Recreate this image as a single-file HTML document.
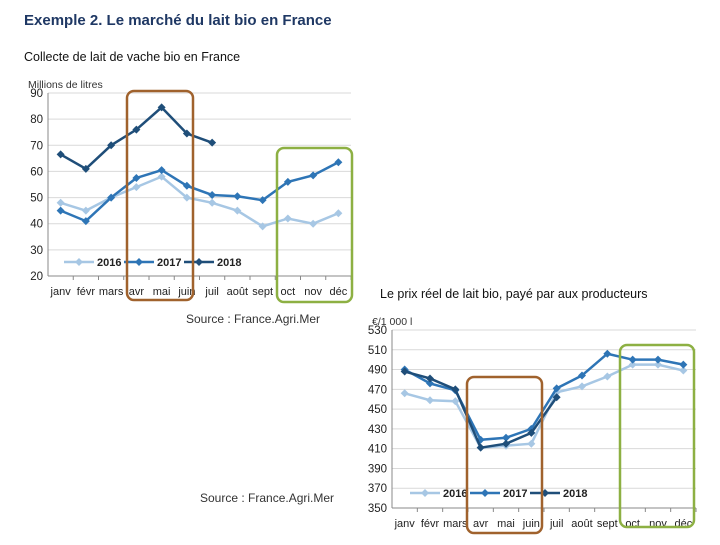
<!DOCTYPE html>
<html><head><meta charset="utf-8"><style>
body{margin:0;width:720px;height:540px;background:#fff;overflow:hidden;font-family:"Liberation Sans",sans-serif}
</style></head><body>
<svg width="720" height="540" xmlns="http://www.w3.org/2000/svg">
<text x="24" y="25" font-size="15" font-weight="bold" fill="#1f3864">Exemple 2. Le marché du lait bio en France</text>
<text x="24" y="61" font-size="12.5" fill="#111">Collecte de lait de vache bio en France</text>
<text x="380" y="298" font-size="12.5" fill="#111">Le prix réel de lait bio, payé par aux producteurs</text>
<text x="186" y="323" font-size="12" fill="#333">Source : France.Agri.Mer</text>
<text x="200" y="502" font-size="12" fill="#333">Source : France.Agri.Mer</text>
<g id="c1"></g>
<g id="c2"></g>
</svg>
<script>
const months=["janv","févr","mars","avr","mai","juin","juil","août","sept","oct","nov","déc"];
const vol2016=[48,45,50,54,58,50,48,45,39,42,40,44];
const vol2017=[45,41,50,57.5,60.5,54.5,51,50.5,49,56,58.5,63.5];
const vol2018=[66.5,61,70,76,84.5,74.5,71];
const volTicks=[20,30,40,50,60,70,80,90];
const price2016=[466,459,458,411,413,415,467,473,483,495,495,489];
const price2017=[490,476,469,419,421,430,471,484,506,500,500,495];
const price2018=[488,481,470,411,415,426,462];
const priceTicks=[350,370,390,410,430,450,470,490,510,530];
const years=["2016","2017","2018"];
const colors=["#a7c7e4","#2e75b6","#1f4e79"];
const NS="http://www.w3.org/2000/svg";
function el(p,t,a){const e=document.createElementNS(NS,t);for(const k in a)e.setAttribute(k,a[k]);p.appendChild(e);return e;}
function chart(g,cfg){
 const {x0,x1,yTop,yBot,min,max,ticks,series,unit,legY,legX,prefix}=cfg;
 const step=(x1-x0)/12;
 const X=i=>x0+step*(i+0.5);
 const Y=v=>yBot-(v-min)/(max-min)*(yBot-yTop);
 const u=el(g,"text",{x:x0-20,y:yTop-5,"font-size":"10.5",fill:"#333"});u.textContent=unit;
 
 
 ticks.forEach(t=>{
  const l=el(g,"line",{x1:x0,x2:x1,y1:Y(t),y2:Y(t),stroke:t===min?"#888":"#d9d9d9","stroke-width":1});
  
  
  const tx=el(g,"text",{x:x0-5,y:Y(t)+4,"font-size":"11.5","text-anchor":"end",fill:"#222"});tx.textContent=t;
  
  
 });
 el(g,"line",{x1:x0,x2:x0,y1:yTop,y2:yBot,stroke:"#888"});
 months.forEach((m,i)=>{
  el(g,"line",{x1:x0+step*(i+1),x2:x0+step*(i+1),y1:yBot,y2:yBot+4,stroke:"#888"});
  const tx=el(g,"text",{x:X(i),y:yBot+19,"font-size":"11","text-anchor":"middle",fill:"#222"});tx.textContent=m;
  
  
 });
 series.forEach((s,k)=>{
  const pl=el(g,"polyline",{points:s.map((v,i)=>X(i)+","+Y(v)).join(" "),fill:"none",stroke:colors[k],"stroke-width":2.5});
  
  
  s.forEach((v,i)=>{
   const cx=X(i),cy=Y(v);
   const d=el(g,"polygon",{points:`${cx},${cy-4} ${cx+4},${cy} ${cx},${cy+4} ${cx-4},${cy}`,fill:colors[k]});
   
   
  });
  const lx=legX+k*60;
  const ll=el(g,"line",{x1:lx,x2:lx+30,y1:legY,y2:legY,stroke:colors[k],"stroke-width":2.5});
  
  
  el(g,"polygon",{points:`${lx+15},${legY-4} ${lx+19},${legY} ${lx+15},${legY+4} ${lx+11},${legY}`,fill:colors[k]});
  const lt=el(g,"text",{x:lx+33,y:legY+4,"font-size":"11","font-weight":"bold",fill:"#222"});lt.textContent=years[k];
  
  
 });
}
chart(document.getElementById("c1"),{x0:48,x1:351,yTop:93,yBot:276,min:20,max:90,ticks:volTicks,series:[vol2016,vol2017,vol2018],unit:"Millions de litres",legY:262,legX:64,prefix:"volume"});
chart(document.getElementById("c2"),{x0:392,x1:696,yTop:330,yBot:508,min:350,max:530,ticks:priceTicks,series:[price2016,price2017,price2018],unit:"€/1 000 l",legY:493,legX:410,prefix:"price"});
const svg=document.querySelector("svg");
[[127,91,66,209,"#a0622d","volume-spring-highlight"],[277,148,75,154,"#8db043","volume-autumn-highlight"],[467,377,75,156,"#a0622d","price-spring-highlight"],[620,345,74,182,"#8db043","price-autumn-highlight"]].forEach(b=>{
 const r=el(svg,"rect",{x:b[0],y:b[1],width:b[2],height:b[3],rx:7,fill:"none",stroke:b[4],"stroke-width":2.5});
 
 
});
</script>
</body></html>
